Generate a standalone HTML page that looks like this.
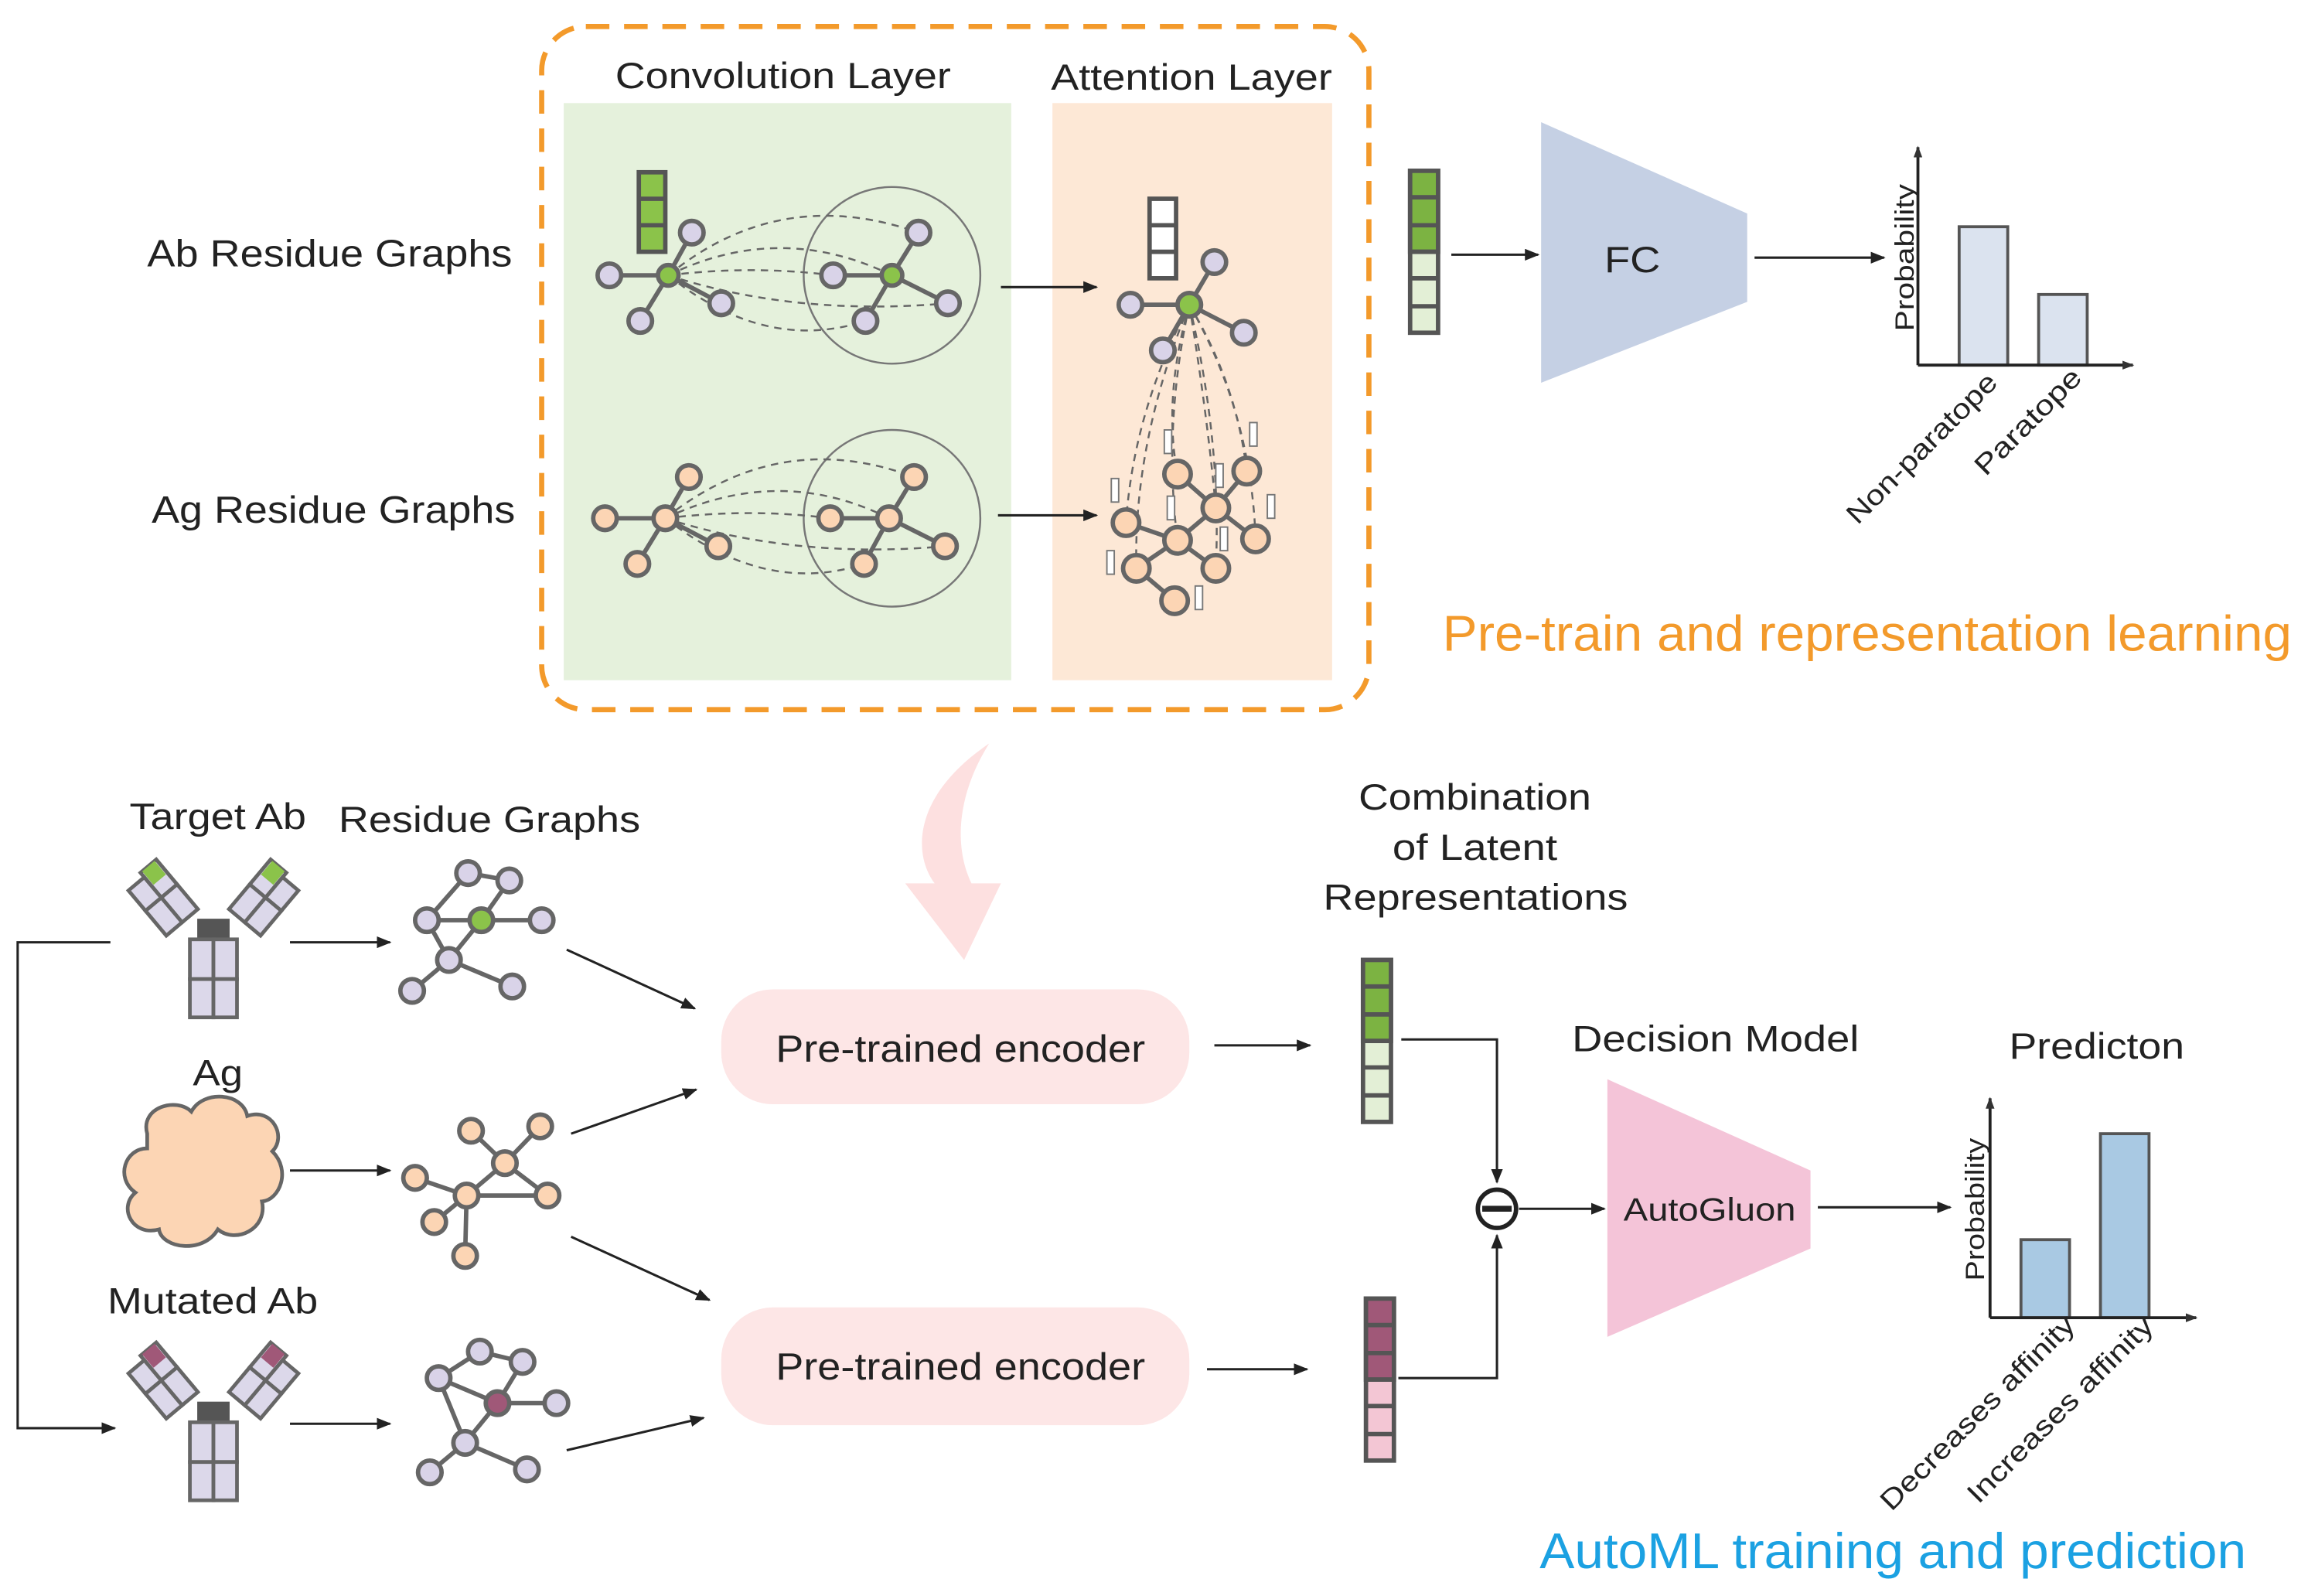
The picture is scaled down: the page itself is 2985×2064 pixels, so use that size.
<!DOCTYPE html>
<html><head><meta charset="utf-8"><style>
html,body{margin:0;padding:0;background:#fff;}
svg{display:block;}
text{font-family:"Liberation Sans",sans-serif;fill:#222;}
</style></head><body>
<svg width="2985" height="2064" viewBox="0 0 1568 1084" preserveAspectRatio="none" xmlns="http://www.w3.org/2000/svg">
<defs>
<marker id="ar" markerWidth="10" markerHeight="8" refX="9" refY="4" orient="auto" markerUnits="userSpaceOnUse"><path d="M0,0 L10,4 L0,8 Z" fill="#222"/></marker>
<marker id="ars" markerWidth="8" markerHeight="6" refX="7" refY="3" orient="auto" markerUnits="userSpaceOnUse"><path d="M0,0 L8,3 L0,6 Z" fill="#333"/></marker>
<g id="ab" stroke="#666" stroke-width="2.5">
 <rect x="-11" y="-14" width="22" height="15" fill="#555" stroke="none"/>
 <rect x="-16" y="0" width="16" height="27" fill="#dcd8ea"/>
 <rect x="0" y="0" width="16" height="27" fill="#dcd8ea"/>
 <rect x="-16" y="27" width="16" height="26" fill="#dcd8ea"/>
 <rect x="0" y="27" width="16" height="26" fill="#dcd8ea"/>
 <g transform="translate(-20,-10) rotate(-40)">
  <rect x="0" y="-24" width="14" height="22" fill="#dcd8ea"/>
  <rect x="0" y="-46" width="14" height="22" fill="#dcd8ea"/>
  <rect x="1.5" y="-46" width="11" height="12" fill="var(--tip)" stroke="none"/>
  <rect x="-14" y="-24" width="14" height="22" fill="#dcd8ea"/>
  <rect x="-14" y="-42" width="14" height="18" fill="#dcd8ea"/>
 </g>
 <g transform="translate(20,-10) rotate(40)">
  <rect x="-14" y="-24" width="14" height="22" fill="#dcd8ea"/>
  <rect x="-14" y="-46" width="14" height="22" fill="#dcd8ea"/>
  <rect x="-12.5" y="-46" width="11" height="12" fill="var(--tip)" stroke="none"/>
  <rect x="0" y="-24" width="14" height="22" fill="#dcd8ea"/>
  <rect x="0" y="-42" width="14" height="18" fill="#dcd8ea"/>
 </g>
</g>
</defs>

<!-- top box -->
<rect x="383" y="70" width="304" height="392" fill="#e5f1dc"/>
<rect x="715" y="70" width="190" height="392" fill="#fde8d6"/>
<rect x="368" y="18" width="562" height="464" rx="30" fill="none" stroke="#f39a2b" stroke-width="3.5" stroke-dasharray="16,10"/>
<text x="418" y="60" font-size="25" textLength="228" lengthAdjust="spacingAndGlyphs">Convolution Layer</text>
<text x="714" y="61" font-size="25" textLength="191" lengthAdjust="spacingAndGlyphs">Attention Layer</text>
<text x="100" y="181" font-size="26" textLength="248" lengthAdjust="spacingAndGlyphs">Ab Residue Graphs</text>
<text x="103" y="355" font-size="26" textLength="247" lengthAdjust="spacingAndGlyphs">Ag Residue Graphs</text>

<g stroke="#666" stroke-width="3">
<line x1="454" y1="187" x2="414" y2="187"/><line x1="454" y1="187" x2="470" y2="158"/><line x1="454" y1="187" x2="490" y2="206"/><line x1="454" y1="187" x2="435" y2="218"/>
<line x1="606" y1="187" x2="566" y2="187"/><line x1="606" y1="187" x2="624" y2="158"/><line x1="606" y1="187" x2="644" y2="206"/><line x1="606" y1="187" x2="588" y2="218"/>
<line x1="452" y1="352" x2="411" y2="352"/><line x1="452" y1="352" x2="468" y2="324"/><line x1="452" y1="352" x2="488" y2="371"/><line x1="452" y1="352" x2="433" y2="383"/>
<line x1="604" y1="352" x2="564" y2="352"/><line x1="604" y1="352" x2="621" y2="324"/><line x1="604" y1="352" x2="642" y2="371"/><line x1="604" y1="352" x2="587" y2="383"/>
<line x1="808" y1="207" x2="768" y2="207"/><line x1="808" y1="207" x2="825" y2="178"/><line x1="808" y1="207" x2="845" y2="226"/><line x1="808" y1="207" x2="790" y2="238"/>
<line x1="765" y1="355" x2="800" y2="367"/><line x1="800" y1="322" x2="826" y2="345"/><line x1="847" y1="320" x2="826" y2="345"/><line x1="826" y1="345" x2="853" y2="366"/><line x1="826" y1="345" x2="800" y2="367"/><line x1="800" y1="367" x2="772" y2="386"/><line x1="800" y1="367" x2="826" y2="386"/><line x1="772" y1="386" x2="798" y2="408"/>
</g>
<g fill="none" stroke="#777" stroke-width="1.3">
<circle cx="606" cy="187" r="60"/><circle cx="606" cy="352" r="60"/>
</g>
<g fill="none" stroke="#666" stroke-width="1.3" stroke-dasharray="5,4">
<path d="M454,187 Q530,150 606,187"/><path d="M454,187 Q530,125 624,158"/><path d="M454,187 Q540,215 644,206"/><path d="M454,187 Q520,240 588,218"/><path d="M454,187 Q510,180 566,187"/>
<path d="M452,352 Q530,315 604,352"/><path d="M452,352 Q530,290 621,324"/><path d="M452,352 Q540,380 642,371"/><path d="M452,352 Q520,405 587,383"/><path d="M452,352 Q510,345 564,352"/>
<path d="M808,207 Q770,280 765,355"/><path d="M808,207 Q790,270 800,322"/><path d="M808,207 Q840,260 847,320"/><path d="M808,207 Q820,280 826,345"/><path d="M808,207 Q850,280 853,366"/><path d="M808,207 Q790,290 800,367"/><path d="M808,207 Q770,300 772,386"/><path d="M808,207 Q830,300 826,386"/>
</g>
<g stroke="#666" stroke-width="3" fill="#d9d3e8">
<circle cx="414" cy="187" r="8"/><circle cx="470" cy="158" r="8"/><circle cx="490" cy="206" r="8"/><circle cx="435" cy="218" r="8"/>
<circle cx="566" cy="187" r="8"/><circle cx="624" cy="158" r="8"/><circle cx="644" cy="206" r="8"/><circle cx="588" cy="218" r="8"/>
<circle cx="768" cy="207" r="8"/><circle cx="825" cy="178" r="8"/><circle cx="845" cy="226" r="8"/><circle cx="790" cy="238" r="8"/>
</g>
<g stroke="#666" stroke-width="3" fill="#8bc34a">
<circle cx="454" cy="187" r="7"/><circle cx="606" cy="187" r="7"/><circle cx="808" cy="207" r="8"/>
</g>
<g stroke="#666" stroke-width="3" fill="#fcd5b4">
<circle cx="452" cy="352" r="8"/><circle cx="411" cy="352" r="8"/><circle cx="468" cy="324" r="8"/><circle cx="488" cy="371" r="8"/><circle cx="433" cy="383" r="8"/>
<circle cx="604" cy="352" r="8"/><circle cx="564" cy="352" r="8"/><circle cx="621" cy="324" r="8"/><circle cx="642" cy="371" r="8"/><circle cx="587" cy="383" r="8"/>
<circle cx="765" cy="355" r="9"/><circle cx="800" cy="322" r="9"/><circle cx="847" cy="320" r="9"/><circle cx="826" cy="345" r="9"/><circle cx="853" cy="366" r="9"/><circle cx="800" cy="367" r="9"/><circle cx="772" cy="386" r="9"/><circle cx="798" cy="408" r="9"/><circle cx="826" cy="386" r="9"/>
</g>
<g fill="#fff" stroke="#777" stroke-width="1">
<rect x="755" y="325" width="5" height="16"/><rect x="791" y="292" width="5" height="16"/><rect x="849" y="287" width="5" height="16"/><rect x="826" y="315" width="5" height="16"/><rect x="861" y="336" width="5" height="16"/><rect x="793" y="337" width="5" height="16"/><rect x="752" y="374" width="5" height="16"/><rect x="812" y="398" width="5" height="16"/><rect x="829" y="358" width="5" height="16"/>
</g>
<g stroke="#555" stroke-width="3">
<rect x="434" y="117" width="18" height="54" fill="#8bc34a"/>
<line x1="434" y1="135" x2="452" y2="135"/><line x1="434" y1="153" x2="452" y2="153"/>
<rect x="781" y="135" width="18" height="54" fill="#fff"/>
<line x1="781" y1="153" x2="799" y2="153"/><line x1="781" y1="171" x2="799" y2="171"/>
</g>
<line x1="680" y1="195" x2="745" y2="195" stroke="#222" stroke-width="1.6" marker-end="url(#ar)"/>
<line x1="678" y1="350" x2="745" y2="350" stroke="#222" stroke-width="1.6" marker-end="url(#ar)"/>

<g stroke="#555" stroke-width="3">
<rect x="958" y="116" width="19" height="110" fill="#e3efd6"/>
<rect x="958" y="116" width="19" height="55" fill="#7cb342"/>
<line x1="958" y1="134" x2="977" y2="134"/><line x1="958" y1="153" x2="977" y2="153"/><line x1="958" y1="171" x2="977" y2="171"/><line x1="958" y1="189" x2="977" y2="189"/><line x1="958" y1="208" x2="977" y2="208"/>
</g>
<line x1="986" y1="173" x2="1045" y2="173" stroke="#222" stroke-width="1.6" marker-end="url(#ar)"/>
<polygon points="1047,83 1187,145 1187,205 1047,260" fill="#c5d0e4"/>
<text x="1090" y="185" font-size="25" textLength="38" lengthAdjust="spacingAndGlyphs">FC</text>
<line x1="1192" y1="175" x2="1280" y2="175" stroke="#222" stroke-width="1.6" marker-end="url(#ar)"/>
<rect x="1331" y="154" width="33" height="94" fill="#dbe3ef" stroke="#555" stroke-width="2"/>
<rect x="1385" y="200" width="33" height="48" fill="#dbe3ef" stroke="#555" stroke-width="2"/>
<line x1="1303" y1="248" x2="1303" y2="100" stroke="#222" stroke-width="2" marker-end="url(#ars)"/>
<line x1="1303" y1="248" x2="1449" y2="248" stroke="#222" stroke-width="2" marker-end="url(#ars)"/>
<text transform="translate(1300,225) rotate(-90)" font-size="18" textLength="100" lengthAdjust="spacingAndGlyphs">Probability</text>
<text transform="translate(1262,357) rotate(-45)" font-size="19" textLength="136" lengthAdjust="spacingAndGlyphs">Non-paratope</text>
<text transform="translate(1349,324) rotate(-45)" font-size="19" textLength="94" lengthAdjust="spacingAndGlyphs">Paratope</text>
<text x="980" y="442" font-size="34" style="fill:#f39a2b" textLength="577" lengthAdjust="spacingAndGlyphs">Pre-train and representation learning</text>

<path d="M672,505 C620,540 620,580 635,600 L615,600 L655,652 L680,600 L660,600 C648,575 650,540 672,505 Z" fill="#fde0e0"/>

<text x="88" y="563" font-size="25" textLength="120" lengthAdjust="spacingAndGlyphs">Target Ab</text>
<text x="230" y="565" font-size="25" textLength="205" lengthAdjust="spacingAndGlyphs">Residue Graphs</text>
<text x="131" y="737" font-size="25" textLength="34" lengthAdjust="spacingAndGlyphs">Ag</text>
<text x="73" y="892" font-size="25" textLength="143" lengthAdjust="spacingAndGlyphs">Mutated Ab</text>

<use href="#ab" x="145" y="638" style="--tip:#8bc34a"/>
<use href="#ab" x="145" y="966" style="--tip:#a05878"/>

<path d="M100,770 C95,752 120,745 130,755 C138,740 165,742 168,758 C185,752 195,772 185,782 C198,795 190,815 178,816 C182,835 160,845 148,835 C138,852 110,848 108,835 C90,840 80,820 92,810 C78,800 85,780 100,780 Z" fill="#fcd5b4" stroke="#666" stroke-width="2.5"/>

<polyline points="75,640 12,640 12,970 78,970" fill="none" stroke="#222" stroke-width="1.6" marker-end="url(#ar)"/>
<line x1="197" y1="640" x2="265" y2="640" stroke="#222" stroke-width="1.6" marker-end="url(#ar)"/>
<line x1="197" y1="795" x2="265" y2="795" stroke="#222" stroke-width="1.6" marker-end="url(#ar)"/>
<line x1="197" y1="967" x2="265" y2="967" stroke="#222" stroke-width="1.6" marker-end="url(#ar)"/>

<g stroke="#666" stroke-width="3">
<line x1="290" y1="625" x2="318" y2="593"/><line x1="318" y1="593" x2="346" y2="598"/><line x1="346" y1="598" x2="327" y2="625"/><line x1="290" y1="625" x2="327" y2="625"/><line x1="327" y1="625" x2="368" y2="625"/><line x1="327" y1="625" x2="305" y2="652"/><line x1="290" y1="625" x2="305" y2="652"/><line x1="305" y1="652" x2="280" y2="673"/><line x1="305" y1="652" x2="348" y2="670"/>
<line x1="320" y1="768" x2="343" y2="790"/><line x1="343" y1="790" x2="367" y2="765"/><line x1="343" y1="790" x2="317" y2="812"/><line x1="282" y1="800" x2="317" y2="812"/><line x1="317" y1="812" x2="372" y2="812"/><line x1="317" y1="812" x2="295" y2="830"/><line x1="317" y1="812" x2="316" y2="853"/><line x1="343" y1="790" x2="372" y2="812"/>
<line x1="298" y1="936" x2="326" y2="918"/><line x1="326" y1="918" x2="355" y2="925"/><line x1="355" y1="925" x2="338" y2="953"/><line x1="298" y1="936" x2="338" y2="953"/><line x1="338" y1="953" x2="378" y2="953"/><line x1="338" y1="953" x2="316" y2="980"/><line x1="298" y1="936" x2="316" y2="980"/><line x1="316" y1="980" x2="292" y2="1000"/><line x1="316" y1="980" x2="358" y2="998"/>
</g>
<g stroke="#666" stroke-width="3" fill="#d9d3e8">
<circle cx="290" cy="625" r="8"/><circle cx="318" cy="593" r="8"/><circle cx="346" cy="598" r="8"/><circle cx="368" cy="625" r="8"/><circle cx="305" cy="652" r="8"/><circle cx="280" cy="673" r="8"/><circle cx="348" cy="670" r="8"/>
<circle cx="298" cy="936" r="8"/><circle cx="326" cy="918" r="8"/><circle cx="355" cy="925" r="8"/><circle cx="378" cy="953" r="8"/><circle cx="316" cy="980" r="8"/><circle cx="292" cy="1000" r="8"/><circle cx="358" cy="998" r="8"/>
</g>
<circle cx="327" cy="625" r="8" fill="#8bc34a" stroke="#666" stroke-width="3"/>
<circle cx="338" cy="953" r="8" fill="#a05878" stroke="#666" stroke-width="3"/>
<g stroke="#666" stroke-width="3" fill="#fcd5b4">
<circle cx="320" cy="768" r="8"/><circle cx="343" cy="790" r="8"/><circle cx="367" cy="765" r="8"/><circle cx="282" cy="800" r="8"/><circle cx="317" cy="812" r="8"/><circle cx="372" cy="812" r="8"/><circle cx="295" cy="830" r="8"/><circle cx="316" cy="853" r="8"/>
</g>

<g stroke="#222" stroke-width="1.6" marker-end="url(#ar)">
<line x1="385" y1="645" x2="472" y2="685"/><line x1="388" y1="770" x2="473" y2="740"/><line x1="388" y1="840" x2="482" y2="883"/><line x1="385" y1="985" x2="478" y2="963"/>
<line x1="825" y1="710" x2="890" y2="710"/><line x1="820" y1="930" x2="888" y2="930"/>
</g>
<rect x="490" y="672" width="318" height="78" rx="35" fill="#fde6e6"/>
<text x="527" y="721" font-size="26" textLength="251" lengthAdjust="spacingAndGlyphs">Pre-trained encoder</text>
<rect x="490" y="888" width="318" height="80" rx="35" fill="#fde6e6"/>
<text x="527" y="937" font-size="26" textLength="251" lengthAdjust="spacingAndGlyphs">Pre-trained encoder</text>

<text x="923" y="550" font-size="25" textLength="158" lengthAdjust="spacingAndGlyphs">Combination</text>
<text x="946" y="584" font-size="25" textLength="112" lengthAdjust="spacingAndGlyphs">of Latent</text>
<text x="899" y="618" font-size="25" textLength="207" lengthAdjust="spacingAndGlyphs">Representations</text>

<g stroke="#555" stroke-width="3">
<rect x="926" y="652" width="19" height="110" fill="#e3efd6"/>
<rect x="926" y="652" width="19" height="55" fill="#7cb342"/>
<line x1="926" y1="670" x2="945" y2="670"/><line x1="926" y1="689" x2="945" y2="689"/><line x1="926" y1="707" x2="945" y2="707"/><line x1="926" y1="725" x2="945" y2="725"/><line x1="926" y1="744" x2="945" y2="744"/>
<rect x="928" y="882" width="19" height="110" fill="#f3c6d4"/>
<rect x="928" y="882" width="19" height="55" fill="#a05878"/>
<line x1="928" y1="900" x2="947" y2="900"/><line x1="928" y1="919" x2="947" y2="919"/><line x1="928" y1="937" x2="947" y2="937"/><line x1="928" y1="955" x2="947" y2="955"/><line x1="928" y1="974" x2="947" y2="974"/>
</g>
<polyline points="952,706 1017,706 1017,803" fill="none" stroke="#222" stroke-width="1.6" marker-end="url(#ar)"/>
<polyline points="950,936 1017,936 1017,839" fill="none" stroke="#222" stroke-width="1.6" marker-end="url(#ar)"/>
<circle cx="1017" cy="821" r="13" fill="#fff" stroke="#222" stroke-width="3"/>
<line x1="1007" y1="821" x2="1027" y2="821" stroke="#222" stroke-width="4"/>
<line x1="1032" y1="821" x2="1090" y2="821" stroke="#222" stroke-width="1.6" marker-end="url(#ar)"/>
<text x="1068" y="714" font-size="25" textLength="195" lengthAdjust="spacingAndGlyphs">Decision Model</text>
<polygon points="1092,733 1230,795 1230,848 1092,908" fill="#f4c4d8"/>
<text x="1103" y="829" font-size="22" textLength="117" lengthAdjust="spacingAndGlyphs">AutoGluon</text>
<line x1="1235" y1="820" x2="1325" y2="820" stroke="#222" stroke-width="1.6" marker-end="url(#ar)"/>
<text x="1365" y="719" font-size="25" textLength="119" lengthAdjust="spacingAndGlyphs">Predicton</text>
<rect x="1373" y="842" width="33" height="53" fill="#a9c9e3" stroke="#555" stroke-width="2"/>
<rect x="1427" y="770" width="33" height="125" fill="#a9c9e3" stroke="#555" stroke-width="2"/>
<line x1="1352" y1="895" x2="1352" y2="746" stroke="#222" stroke-width="2" marker-end="url(#ars)"/>
<line x1="1352" y1="895" x2="1492" y2="895" stroke="#222" stroke-width="2" marker-end="url(#ars)"/>
<text transform="translate(1348,870) rotate(-90)" font-size="18" textLength="97" lengthAdjust="spacingAndGlyphs">Probability</text>
<text transform="translate(1285,1027) rotate(-45)" font-size="19" textLength="178" lengthAdjust="spacingAndGlyphs">Decreases affinity</text>
<text transform="translate(1344,1022) rotate(-45)" font-size="19" textLength="170" lengthAdjust="spacingAndGlyphs">Increases affinity</text>
<text x="1046" y="1065" font-size="34" style="fill:#1ba1e2" textLength="480" lengthAdjust="spacingAndGlyphs">AutoML training and prediction</text>
</svg>
</body></html>
